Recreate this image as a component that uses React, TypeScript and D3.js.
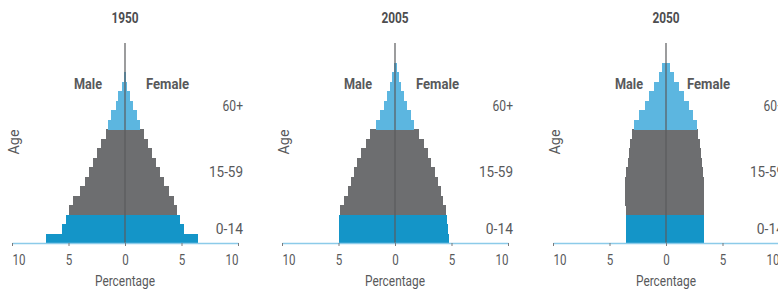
import React, { useRef, useEffect } from "react";
import { select, scaleLinear, scaleBand, axisBottom } from "d3";

// age groups, youngest first
const ageGroups = ["0-4", "5-9", "10-14", "15-19", "20-24", "25-29", "30-34", "35-39", "40-44",
  "45-49", "50-54", "55-59", "60-64", "65-69", "70-74", "75-79", "80-84", "85-89", "90+"];

const years = ["1950", "2005", "2050"];

// percentage of total population per 5-year group
const male1950 = [7.0, 5.55, 5.25, 4.95, 4.6, 3.95, 3.55, 3.2, 2.85, 2.45, 2.1, 1.7, 1.5, 1.2, 0.8, 0.6, 0.3, 0.05, 0];
const female1950 = [6.5, 5.2, 4.85, 4.6, 4.3, 3.85, 3.45, 3.1, 2.75, 2.35, 2.0, 1.7, 1.35, 1.05, 0.75, 0.45, 0.2, 0.05, 0];
const male2005 = [5.0, 4.98, 4.95, 4.9, 4.5, 4.15, 3.9, 3.65, 3.35, 2.97, 2.6, 2.2, 1.64, 1.33, 1.0, 0.72, 0.45, 0.25, 0.13];
const female2005 = [4.75, 4.65, 4.6, 4.5, 4.28, 4.03, 3.78, 3.55, 3.22, 2.92, 2.56, 2.12, 1.72, 1.38, 1.08, 0.8, 0.55, 0.36, 0.2];
const male2050 = [3.55, 3.55, 3.56, 3.55, 3.62, 3.65, 3.62, 3.52, 3.4, 3.3, 3.18, 3.0, 2.85, 2.38, 1.9, 1.47, 1.03, 0.65, 0.32];
const female2050 = [3.35, 3.36, 3.36, 3.37, 3.37, 3.36, 3.35, 3.3, 3.2, 3.1, 3.0, 2.86, 2.78, 2.4, 2.0, 1.58, 1.15, 0.75, 0.32];

const maleData = [male1950, male2005, male2050];
const femaleData = [female1950, female2005, female2050];

const bracketLabels = ["0-14", "15-59", "60+"];
const bracketAnchors = ["5-9", "35-39", "70-74"];
const tickValues = [-10, -5, 0, 5, 10];

const W = 778;
const H = 290;
const centers = [125, 395, 666];
const halfWidth = 113;
const axisY = 243;
const topY = 63;

// no condensed font available, so text is squeezed with textLength
const FONT = "Roboto, 'Liberation Sans', sans-serif";
const TEXT = "#58595b";
const squeeze = (s: string, perChar: number) => ({
  textLength: s.length * perChar,
  lengthAdjust: "spacingAndGlyphs",
});

const groupColor = (i: number) => (i < 3 ? "#1495c8" : i < 12 ? "#6d6e70" : "#5cb6e0");

function Pyramid({ idx }: { idx: number }) {
  const axisRef = useRef<SVGGElement>(null);
  const cx = centers[idx];
  const x = scaleLinear().domain([-10, 10]).range([cx - halfWidth, cx + halfWidth]);
  const y = scaleBand<string>().domain(ageGroups).range([axisY, topY]).padding(0);
  const bw = y.bandwidth();

  useEffect(() => {
    const g = select(axisRef.current);
    const axis = axisBottom(x)
      .tickValues(tickValues)
      .tickFormat(d => String(Math.abs(+d)))
      .tickSize(3)
      .tickSizeOuter(0)
      .tickPadding(9);
    g.call(axis);
    g.select(".domain").attr("stroke", "#8ccbe9").attr("stroke-width", 1.5);
    g.selectAll(".tick line").attr("stroke", "#7a7b7d");
    g.selectAll(".tick text")
      .attr("fill", TEXT)
      .attr("text-anchor", (d: any) => (d === -10 ? "start" : d === 10 ? "end" : "middle"))
      .attr("textLength", (d: any) => String(Math.abs(d)).length * 6.5)
      .attr("lengthAdjust", "spacingAndGlyphs")
      .style("font-family", FONT)
      .style("font-size", "14px");
  }, [idx]);

  const males = maleData[idx];
  const females = femaleData[idx];

  return (
    <g>
      <text x={cx} y={23} textAnchor="middle" fontFamily={FONT} fontSize={14.5} fontWeight="bold" fill="#4d4d4f"
        {...squeeze(years[idx], 6.8)}>
        {years[idx]}
      </text>
      <text x={cx - 23} y={89} textAnchor="end" fontFamily={FONT} fontSize={14.5} fontWeight="bold" fill={TEXT}
        textLength={28} lengthAdjust="spacingAndGlyphs">
        Male
      </text>
      <text x={cx + 21} y={89} textAnchor="start" fontFamily={FONT} fontSize={14.5} fontWeight="bold" fill={TEXT}
        textLength={43} lengthAdjust="spacingAndGlyphs">
        Female
      </text>
      <text
        transform={`translate(${cx - 106},${142}) rotate(-90)`}
        textAnchor="middle"
        fontFamily={FONT}
        fontSize={15}
        fill={TEXT}
        textLength={25}
        lengthAdjust="spacingAndGlyphs"
      >
        Age
      </text>
      <g shapeRendering="crispEdges">
        {ageGroups.map((a, i) => (
          <g key={a}>
            <rect x={x(-males[i])} y={y(a)} width={x(0) - x(-males[i])} height={bw + 0.5} fill={groupColor(i)} />
            <rect x={x(0)} y={y(a)} width={x(females[i]) - x(0)} height={bw + 0.5} fill={groupColor(i)} />
          </g>
        ))}
      </g>
      <line x1={x(0)} x2={x(0)} y1={43} y2={axisY} stroke="#5a5b5d" strokeWidth={1.2} />
      {bracketLabels.map((l, i) => (
        <text
          key={l}
          x={cx + 118}
          y={(y(bracketAnchors[i]) ?? 0) + bw / 2}
          dy="0.35em"
          textAnchor="end"
          fontFamily={FONT}
          fontSize={14}
          fill={TEXT}
          textLength={l.length * 6.8}
          lengthAdjust="spacingAndGlyphs"
        >
          {l}
        </text>
      ))}
      <g ref={axisRef} transform={`translate(0,${axisY})`} />
      <text x={cx} y={286} textAnchor="middle" fontFamily={FONT} fontSize={14} fill={TEXT}
        textLength={60} lengthAdjust="spacingAndGlyphs">
        Percentage
      </text>
    </g>
  );
}

export default function App() {
  return (
    <svg width={W} height={H} style={{ position: "absolute", left: 0, top: 0, display: "block", background: "#fff" }}>
      {years.map((yr, i) => (
        <Pyramid key={yr} idx={i} />
      ))}
    </svg>
  );
}
